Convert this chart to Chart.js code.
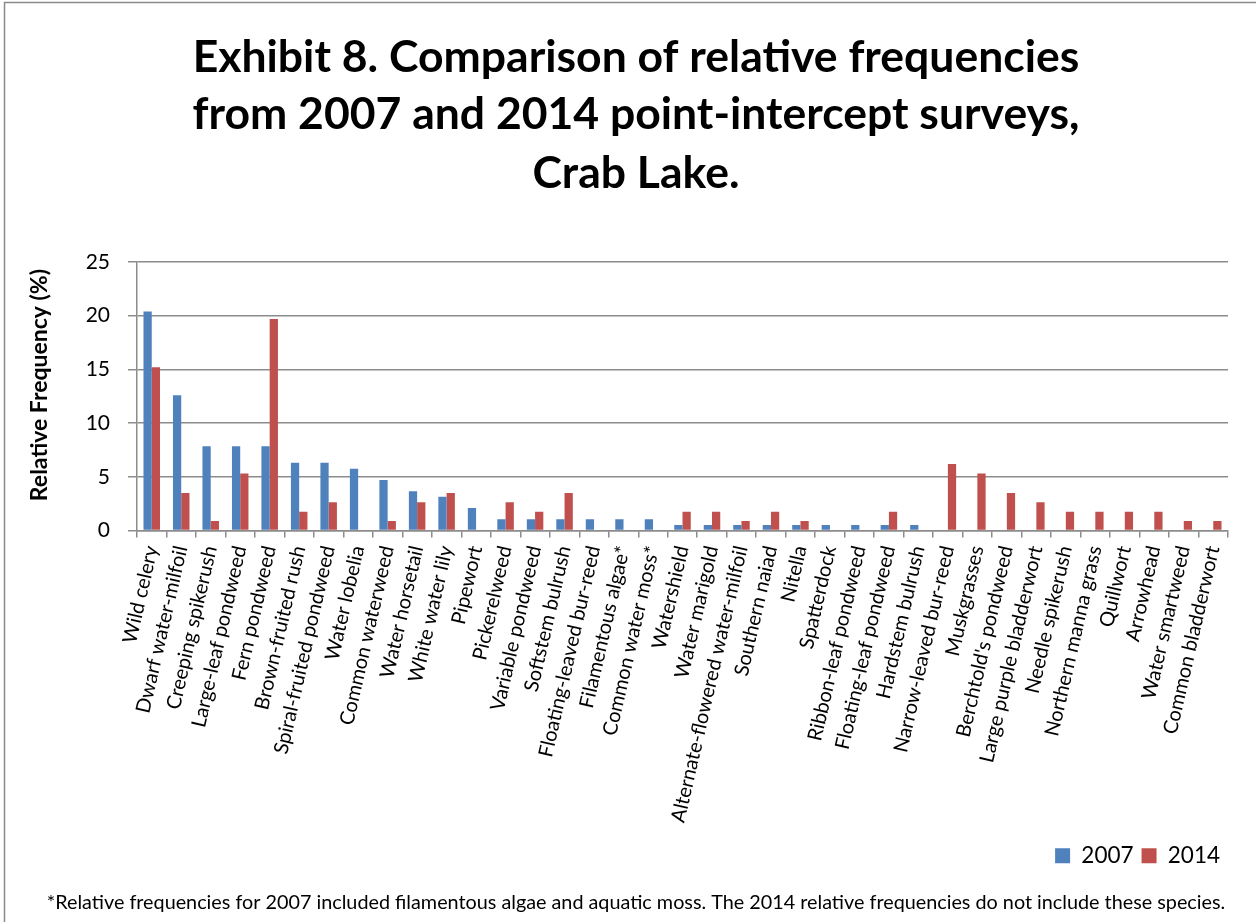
<!DOCTYPE html>
<html>
<head>
<meta charset="utf-8">
<script src="https://cdn.jsdelivr.net/npm/chart.js@4/dist/chart.umd.min.js"></script>
<style>
  html, body { margin: 0; padding: 0; background: #fff; }
  #wrap { width: 1256px; height: 922px; }
</style>
</head>
<body>
<div id="wrap"><canvas id="chart" width="1256" height="922"></canvas></div>
<script>
// Species (x categories)
const species = [
  'Wild celery', 'Dwarf water-milfoil', 'Creeping spikerush', 'Large-leaf pondweed',
  'Fern pondweed', 'Brown-fruited rush', 'Spiral-fruited pondweed', 'Water lobelia',
  'Common waterweed', 'Water horsetail', 'White water lily', 'Pipewort',
  'Pickerelweed', 'Variable pondweed', 'Softstem bulrush', 'Floating-leaved bur-reed',
  'Filamentous algae*', 'Common water moss*', 'Watershield', 'Water marigold',
  'Alternate-flowered water-milfoil', 'Southern naiad', 'Nitella', 'Spatterdock',
  'Ribbon-leaf pondweed', 'Floating-leaf pondweed', 'Hardstem bulrush', 'Narrow-leaved bur-reed',
  'Muskgrasses', "Berchtold's pondweed", 'Large purple bladderwort', 'Needle spikerush',
  'Northern manna grass', 'Quillwort', 'Arrowhead', 'Water smartweed', 'Common bladderwort'
];

// Relative frequency (%)
const freq2007 = [
  20.4, 12.6, 7.85, 7.85, 7.85, 6.3, 6.3, 5.75, 4.7, 3.65, 3.15, 2.1,
  1.05, 1.05, 1.05, 1.05, 1.05, 1.05, 0.52, 0.52, 0.52, 0.52, 0.52, 0.52,
  0.52, 0.52, 0.52, 0, 0, 0, 0, 0, 0, 0, 0, 0, 0
];
const freq2014 = [
  15.2, 3.5, 0.88, 5.3, 19.7, 1.75, 2.63, 0, 0.88, 2.63, 3.5, 0,
  2.63, 1.75, 3.5, 0, 0, 0, 1.75, 1.75, 0.88, 1.75, 0.88, 0,
  0, 1.75, 0, 6.2, 5.3, 3.5, 2.63, 1.75, 1.75, 1.75, 1.75, 0.88, 0.88
];

const yTicks = [0, 5, 10, 15, 20, 25];

const titleLines = [
  'Exhibit 8. Comparison of relative frequencies',
  'from 2007 and 2014 point-intercept surveys,',
  'Crab Lake.'
];
const footnote = '*Relative frequencies for 2007 included filamentous algae and aquatic moss. The 2014 relative frequencies do not include these species.';

const FONT = 'Lato, "Open Sans", sans-serif';
const GRID = '#8c8c8c';

// grey frame, title and footnote (the source centres these a bit right of the canvas middle)
const decorPlugin = {
  id: 'decor',
  beforeDraw(chart) {
    const ctx = chart.ctx;
    ctx.save();
    ctx.strokeStyle = '#8a8a8a';
    ctx.lineWidth = 1.5;
    ctx.strokeRect(4.5, 2.5, chart.width + 20, chart.height + 20);
    ctx.restore();
  },
  afterDraw(chart) {
    const ctx = chart.ctx;
    ctx.save();
    ctx.fillStyle = '#000';
    ctx.textAlign = 'center';
    ctx.textBaseline = 'alphabetic';
    ctx.font = 'bold 44.5px ' + FONT;
    const baselines = [72, 129, 188];
    titleLines.forEach((line, i) => ctx.fillText(line, 636, baselines[i]));
    ctx.font = '19.8px ' + FONT;
    ctx.textBaseline = 'middle';
    ctx.fillText(footnote, 636, 903);
    ctx.restore();
  }
};

new Chart(document.getElementById('chart'), {
  type: 'bar',
  data: {
    labels: species,
    datasets: [
      {
        label: '2007',
        data: freq2007,
        backgroundColor: '#4F81BD',
        borderWidth: 0,
        barPercentage: 1.0,
        categoryPercentage: 0.56
      },
      {
        label: '2014',
        data: freq2014,
        backgroundColor: '#C0504D',
        borderWidth: 0,
        barPercentage: 1.0,
        categoryPercentage: 0.56
      }
    ]
  },
  options: {
    responsive: false,
    animation: false,
    layout: { padding: { left: 20, right: 28, top: 262, bottom: 45 } },
    plugins: {
      title: { display: false },
      legend: {
        position: 'bottom',
        align: 'end',
        labels: {
          color: '#000',
          font: { family: FONT, size: 22.5 },
          boxWidth: 15,
          boxHeight: 15,
          padding: 8
        }
      },
      tooltip: { enabled: false }
    },
    scales: {
      x: {
        grid: {
          display: true,
          offset: true,
          drawOnChartArea: false,
          drawTicks: true,
          tickLength: 7,
          color: GRID,
          lineWidth: 1.5
        },
        border: { display: true, color: GRID, width: 1.5 },
        ticks: {
          autoSkip: false,
          minRotation: 77,
          maxRotation: 77,
          color: '#000',
          padding: 6,
          font: { family: FONT, size: 20 }
        },
        afterFit(scale) { scale.height = 306; }
      },
      y: {
        min: 0,
        max: 25,
        afterBuildTicks(scale) { scale.ticks = yTicks.map(v => ({ value: v })); },
        grid: {
          color: GRID,
          lineWidth: 1.5,
          drawTicks: true,
          tickLength: 9
        },
        border: { display: true, color: GRID, width: 1.5 },
        ticks: {
          color: '#000',
          padding: 18,
          font: { family: FONT, size: 21 }
        },
        title: {
          display: true,
          // leading spaces nudge the rotated title up a little, as in the source
          text: '\u00a0\u00a0\u00a0\u00a0Relative Frequency (%)',
          color: '#000',
          font: { family: FONT, size: 23, weight: 'bold' },
          padding: { top: 6, bottom: 0 }
        },
        afterFit(scale) { scale.width = 117; }
      }
    }
  },
  plugins: [decorPlugin]
});
</script>
</body>
</html>
